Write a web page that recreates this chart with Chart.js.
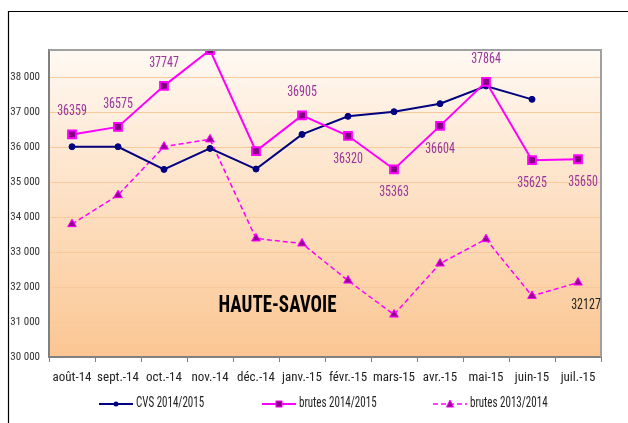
<!DOCTYPE html>
<html><head><meta charset="utf-8">
<script src="https://cdn.jsdelivr.net/npm/chart.js@4/dist/chart.umd.min.js"></script>
<style>html,body{margin:0;padding:0;background:#fff;}canvas{display:block;}</style>
</head><body>
<canvas id="c" width="628" height="423"></canvas>
<script>
const categories = ['août-14','sept.-14','oct.-14','nov.-14','déc.-14','janv.-15','févr.-15','mars-15','avr.-15','mai-15','juin-15','juil.-15'];
const cvs1415 = [36008,36008,35360,35960,35370,36361,36876,37009,37238,37743,37362,null];
const brutes1415 = [36359,36575,37747,38772,35884,36905,36320,35363,36604,37864,35625,35650];
const brutes1314 = [33796,34625,36010,36218,33386,33243,32184,31212,32671,33367,31746,32127];
const yTicks = [30000,31000,32000,33000,34000,35000,36000,37000,38000];
const yMin = 30000, yMax = 38772;
// value labels: 1 above the point, -1 below, 0 none
const labelSide1415 = [1,1,1,0,0,1,-1,-1,-1,1,-1,-1];
const labelSide1314 = [0,0,0,0,0,0,0,0,0,0,0,-1];
const title = 'HAUTE-SAVOIE';
const legendNames = ['CVS 2014/2015','brutes 2014/2015','brutes 2013/2014'];

function width(font){
  const c=document.createElement('canvas').getContext('2d');
  c.font=font; return c.measureText('août-14 HAUTE 36359').width;
}
const regW = width("40px 'Liberation Sans'");
const narrowCands=['Liberation Sans Narrow','Arial Narrow','DejaVu Sans Condensed','Roboto Condensed','Open Sans Condensed'];
let narrow=null;
for(const n of narrowCands){ if(width("40px '"+n+"', 'Liberation Sans'") < regW*0.92){ narrow=n; break; } }
const FONT = narrow ? "'"+narrow+"', 'Liberation Sans', Arial, sans-serif" : "'Liberation Sans', Arial, sans-serif";
const SX = narrow ? 1 : 0.82;   // horizontal condensing for text drawn by hand
const xTickSize = narrow ? 13 : 12;
const yTickSize = 11;
const fmt = v => String(v).replace(/\B(?=(\d{3})+(?!\d))/g,' ');

const styles = [
  {line:'#000080', fill:'#000080', dash:[], style:'circle'},
  {line:'#ff00ff', fill:'#800080', dash:[], style:'rect'},
  {line:'#ff00ff', fill:'#990099', dash:[5,3], style:'triangle'}
];

function txt(ctx, s, x, y, font, color, align, sy){
  ctx.save(); ctx.translate(x,y); ctx.scale(SX, sy||1.12);
  ctx.font=font; ctx.fillStyle=color; ctx.textAlign=align||'center'; ctx.textBaseline='middle';
  ctx.fillText(s,0,0); ctx.restore();
}

const deco = {
  id:'deco',
  beforeDraw(chart){
    const {ctx, chartArea:a} = chart;
    ctx.save();
    ctx.strokeStyle='#000'; ctx.lineWidth=1.2;
    ctx.beginPath(); ctx.moveTo(8.5,423); ctx.lineTo(8.5,11.5); ctx.lineTo(628,11.5); ctx.stroke();
    const g = ctx.createLinearGradient(0,a.top,0,a.bottom);
    g.addColorStop(0,'#fff9f3');
    g.addColorStop(1,'#fbc692');
    ctx.fillStyle=g;
    ctx.fillRect(a.left,a.top,a.right-a.left,a.bottom-a.top);
    ctx.restore();
  },
  afterDraw(chart){
    const {ctx, chartArea:a} = chart;
    ctx.save();
    ctx.strokeStyle='#a0a0a0'; ctx.lineWidth=2;
    ctx.beginPath(); ctx.moveTo(a.left,a.top); ctx.lineTo(a.right,a.top); ctx.lineTo(a.right,a.bottom); ctx.stroke();
    const drawLabels = (di, sides, color) => {
      const meta = chart.getDatasetMeta(di);
      const vals = chart.data.datasets[di].data;
      meta.data.forEach((pt,i)=>{
        if(!sides[i] || vals[i]==null) return;
        const dx = i===11 ? (di===2?8:5) : 0;
        txt(ctx, String(vals[i]), pt.x + dx, pt.y - sides[i]*23, '12px '+FONT, color, 'center', 1.25);
      });
    };
    drawLabels(1, labelSide1415, '#993399');
    drawLabels(2, labelSide1314, '#222222');
    txt(ctx, title, a.left + (a.right-a.left)*0.414, a.top + (a.bottom-a.top)*0.836, 'bold 19px '+FONT, '#000', 'center', 1.22);
    const ly = 404, xs=[99,262,433];
    legendNames.forEach((n,i)=>{
      const s = styles[i], x0 = xs[i];
      ctx.save();
      ctx.strokeStyle=s.line; ctx.lineWidth= i==2?1.5:2; ctx.setLineDash(s.dash);
      ctx.beginPath(); ctx.moveTo(x0,ly); ctx.lineTo(x0+34,ly); ctx.stroke();
      ctx.setLineDash([]);
      ctx.fillStyle=s.fill; ctx.strokeStyle=s.line; ctx.lineWidth=1;
      const cx=x0+17;
      if(s.style==='circle'){ctx.beginPath();ctx.arc(cx,ly,2.5,0,Math.PI*2);ctx.fill();}
      else if(s.style==='rect'){ctx.fillRect(cx-3,ly-3,6,6);ctx.strokeRect(cx-3,ly-3,6,6);}
      else {ctx.beginPath();ctx.moveTo(cx,ly-4);ctx.lineTo(cx+3.5,ly+3);ctx.lineTo(cx-3.5,ly+3);ctx.closePath();ctx.fill();ctx.stroke();}
      ctx.restore();
      txt(ctx, n, x0+37, ly, '11px '+FONT, '#222', 'left', 1.25);
    });
    ctx.restore();
  }
};

const mk = (label, data, s, extra) => Object.assign({
  label, data, borderColor:s.line, backgroundColor:s.fill, pointBackgroundColor:s.fill,
  pointBorderColor:s.line, pointStyle:s.style, borderDash:s.dash, tension:0, spanGaps:false,
  fill:false
}, extra);

new Chart(document.getElementById('c'), {
  type:'line',
  data:{
    labels: categories,
    datasets:[
      mk(legendNames[0], cvs1415, styles[0], {borderWidth:2, pointRadius:3, pointBorderWidth:1, order:2}),
      mk(legendNames[1], brutes1415, styles[1], {borderWidth:2, pointRadius:5.5, pointBorderWidth:2, order:1}),
      mk(legendNames[2], brutes1314, styles[2], {borderWidth:1.5, pointRadius:5, pointBorderWidth:1, order:3})
    ]
  },
  options:{
    responsive:false, animation:false, devicePixelRatio:1,
    layout:{padding:{top:50,right:27,left:0,bottom:0}},
    plugins:{legend:{display:false}, tooltip:{enabled:false}},
    scales:{
      x:{
        offset:true,
        afterFit(s){ s.height = 66; },
        grid:{offset:true, drawOnChartArea:false, drawTicks:true, tickLength:5, color:'#808080', lineWidth:1},
        border:{display:true, color:'#808080', width:2},
        ticks:{color:'#222', font:{family:FONT,size:xTickSize}, padding:8, maxRotation:0, autoSkip:false}
      },
      y:{
        min:yMin, max:yMax,
        afterFit(s){ s.width = 49; },
        afterBuildTicks(s){ s.ticks = yTicks.map(v => ({value:v})); },
        ticks:{color:'#333', font:{family:FONT,size:yTickSize}, padding:9, autoSkip:false, callback:v=>fmt(v)},
        grid:{color:'#f8c99a', lineWidth:1, drawTicks:false},
        border:{display:true, color:'#808080', width:2}
      }
    }
  },
  plugins:[deco]
});
</script>
</body></html>
